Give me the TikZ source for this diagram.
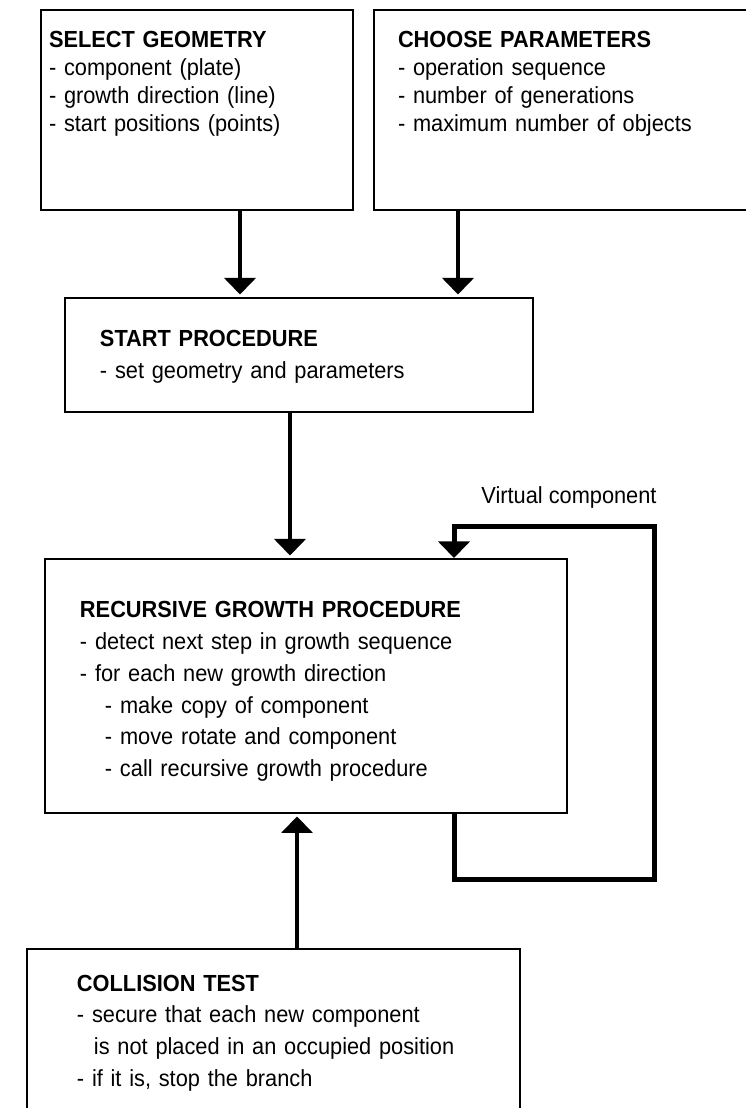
\documentclass[tikz,border=0pt]{standalone}
\usepackage{fontspec}
\setmainfont{Liberation Sans}[FakeStretch=0.935]
\usetikzlibrary{calc,arrows.meta}
\tikzset{process/.style={rectangle, draw=black, line width=1.14pt,
    anchor=north west, align=left, inner ysep=0pt,
    font=\fontsize{13.26pt}{18.04pt}\selectfont},
  toprow/.style={process, font=\fontsize{13.26pt}{15.93pt}\selectfont},
  note/.style={inner sep=0pt, font=\fontsize{13.26pt}{15.93pt}\selectfont},
  myarrow/.style={-{Triangle[width=17.6pt,length=9.4pt]}, line width=2.28pt,
    shorten >=0.05cm},
  loopline/.style={-{Triangle[width=17.6pt,length=9.4pt]}, line width=2.85pt}
}

\begin{document}
\begin{tikzpicture}[x=0.02cm, y=-0.02cm]
  \useasboundingbox (0,0) rectangle (745,1108);

  %Geometry node
  \node (geometry) [toprow, inner xsep=0.16cm, text width=5.92cm,
    text height=0.76cm, text depth=3.24cm] at (40,9)
  {\textbf{SELECT GEOMETRY}\\
   - component (plate)\\
   - growth direction (line)\\
   - start positions (points)};

  %Parameters node
  \node (parameters) [toprow, inner xsep=0.48cm, text width=7.28cm,
    text height=0.76cm, text depth=3.24cm] at (373,9)
  {\textbf{CHOOSE PARAMETERS}\\
   - operation sequence\\
   - number of generations\\
   - maximum number of objects};

  %Start node
  \node (start) [process, inner xsep=0.7cm, text width=7.96cm,
    text height=0.98cm, text depth=1.3cm] at (64,297)
  {\textbf{START PROCEDURE}\\
   - set geometry and parameters};

  %Growth node
  \node (growth) [process, inner xsep=0.7cm, text width=9.04cm,
    text height=1.18cm, text depth=3.9cm] at (44,558)
  {\textbf{RECURSIVE GROWTH PROCEDURE}\\
   - detect next step in growth sequence\\
   - for each new growth direction\\
   \hspace*{0.5cm}- make copy of component\\
   \hspace*{0.5cm}- move rotate and component\\
   \hspace*{0.5cm}- call recursive growth procedure};

  %Collision node
  \node (collision) [process, inner xsep=1cm, text width=7.86cm,
    text height=0.84cm, text depth=2.8cm] at (26,948)
  {\textbf{COLLISION TEST}\\
   - secure that each new component\\
   \hspace*{0.34cm}is not placed in an occupied position\\
   - if it is, stop the branch};

  \coordinate (geometry-out) at ($(geometry.south west)+(200,0)$);
  \coordinate (parameters-out) at ($(parameters.south west)+(85,0)$);
  \coordinate (start-out) at ($(start.south west)+(226,0)$);
  \coordinate (collision-out) at ($(collision.north west)+(271,0)$);
  \coordinate (loop-out) at ($(growth.south west)+(410,0)$);

  \draw [myarrow] (geometry-out) -- (geometry-out |- start.north);
  \draw [myarrow] (parameters-out) -- (parameters-out |- start.north);
  \draw [myarrow] (start-out) -- (start-out |- growth.north);
  \draw [myarrow] (collision-out) -- (collision-out |- growth.south);

  %feedback loop
  \draw [loopline] (loop-out) -- ++(0,66)
    -| ($(growth.north east)+(87,-32)$) -| (loop-out |- growth.north);
  \node (virtual) [note, anchor=base east] at ($(growth.north east)+(89,-55)$)
    {Virtual component};

\end{tikzpicture}
\end{document}
